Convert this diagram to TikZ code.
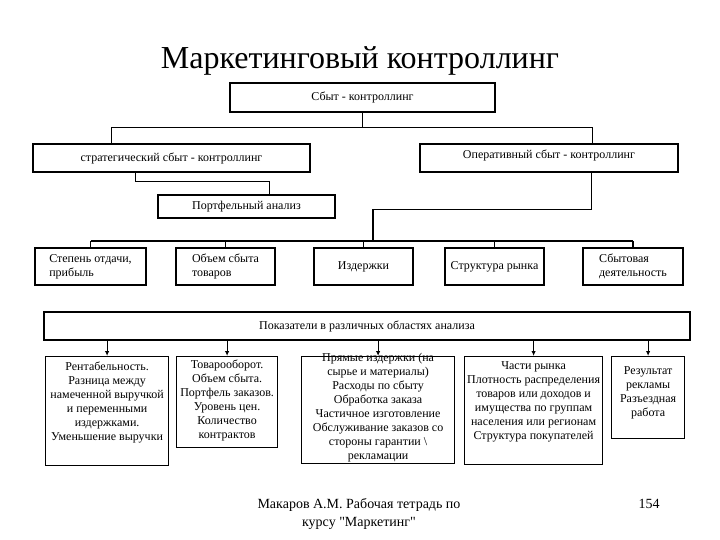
\documentclass[tikz,border=0pt]{standalone}
\usepackage{fontspec}
\setmainfont{Liberation Serif}
\usetikzlibrary{arrows.meta}
\newcommand{\cellbox}[4]{\parbox[c][#2][t]{#1}{\centering\vspace*{#3}#4\par}}

\begin{document}
\begin{tikzpicture}[x=1pt, y=-1pt, line width=1.2pt,
    box/.style={draw, line width=1.2pt, inner sep=0pt, align=center, font=\fontsize{12}{14}\selectfont},
    cell/.style={draw, line width=1.2pt, inner sep=0pt, anchor=north west, font=\fontsize{12}{14}\selectfont},
    arr/.style={-{Latex[length=5pt,width=4.5pt]}}]
    \useasboundingbox (0,0) rectangle (720,540);
    \node[anchor=base] (title) at (360,69) {\fontsize{32}{38}\selectfont Маркетинговый контроллинг};
    \node[box, minimum width=265pt, minimum height=29pt] (sbyt) at (362.5,97.5) {Сбыт - контроллинг};
    \node[box, minimum width=277pt, minimum height=28pt] (strat) at (171.5,158) {стратегический сбыт - контроллинг};
    \node[box, minimum width=258pt, minimum height=28pt, text depth=7pt] (oper) at (549,158) {Оперативный сбыт - контроллинг};
    \node[box, minimum width=177pt, minimum height=23pt] (port) at (246.5,206.5) {Портфельный анализ};
    % second row
    \node[box, minimum width=111pt, minimum height=37pt, align=left] (st1) at (90.5,266.5) {Степень отдачи,\\прибыль};
    \node[box, minimum width=99pt, minimum height=37pt, align=left] (st2) at (225.5,266.5) {Объем сбыта\\товаров};
    \node[box, minimum width=99pt, minimum height=37pt] (st3) at (363.5,266.5) {Издержки};
    \node[box, minimum width=99pt, minimum height=37pt] (st4) at (494.5,266.5) {Структура рынка};
    \node[box, minimum width=100pt, minimum height=37pt, align=left] (st5) at (633,266.5) {Сбытовая\\деятельность};
    \node[box, minimum width=646pt, minimum height=28pt] (pok) at (367,326) {Показатели в различных областях анализа};
    % third row
    \node[cell] (pk1) at (45,356) {\cellbox{123pt}{109pt}{5pt}{Рентабельность.\\Разница между\\намеченной выручкой\\и переменными\\издержками.\\Уменьшение выручки}};
    \node[cell] (pk2) at (176,356) {\cellbox{101pt}{91pt}{3pt}{Товарооборот.\\Объем сбыта.\\Портфель заказов.\\Уровень цен.\\Количество\\контрактов}};
    \node[cell] (pk3) at (301,356) {\cellbox{153pt}{107pt}{-3pt}{Прямые издержки (на\\сырье и материалы)\\Расходы по сбыту\\Обработка заказа\\Частичное изготовление\\Обслуживание заказов со\\стороны гарантии \textbackslash\\рекламации}};
    \node[cell] (pk4) at (464,356) {\cellbox{138pt}{108pt}{5pt}{Части рынка\\Плотность распределения\\товаров или доходов и\\имущества по группам\\населения или регионам\\Структура покупателей}};
    \node[cell] (pk5) at (611,356) {\cellbox{73pt}{82pt}{10pt}{Результат\\рекламы\\Разъездная\\работа}};
    % footer
    \node[align=center, inner sep=0pt, font=\fontsize{14}{18}\selectfont] (foot) at (359,514) {Макаров А.М. Рабочая тетрадь по\\курсу \textquotedbl Маркетинг\textquotedbl};
    \node[anchor=base, font=\fontsize{14}{18}\selectfont] (page) at (649,508) {154};
    % connectors
    \draw (sbyt.south) -- ++(0,15) coordinate (j1);
    \draw (j1) -| ([xshift=79pt]strat.north west);
    \draw (j1) -| ([xshift=-86pt]oper.north east);
    \draw ([xshift=103pt]strat.south west) -- ++(0,9) -| ([xshift=112pt]port.north west);
    \coordinate (bus) at (373,241);
    \draw ([xshift=-87pt]oper.south east) -- ++(0,37) -| (bus);
    \draw (st1.north |- bus) -- (st5.north |- bus);
    \foreach \n in {st1,st2,st3,st4,st5}
        \draw (\n.north |- bus) -- (\n.north);
    \foreach \n in {pk1,pk2,pk3,pk4,pk5}
        \draw[arr] (\n.north |- pok.south) -- (\n.north);
\end{tikzpicture}
\end{document}
